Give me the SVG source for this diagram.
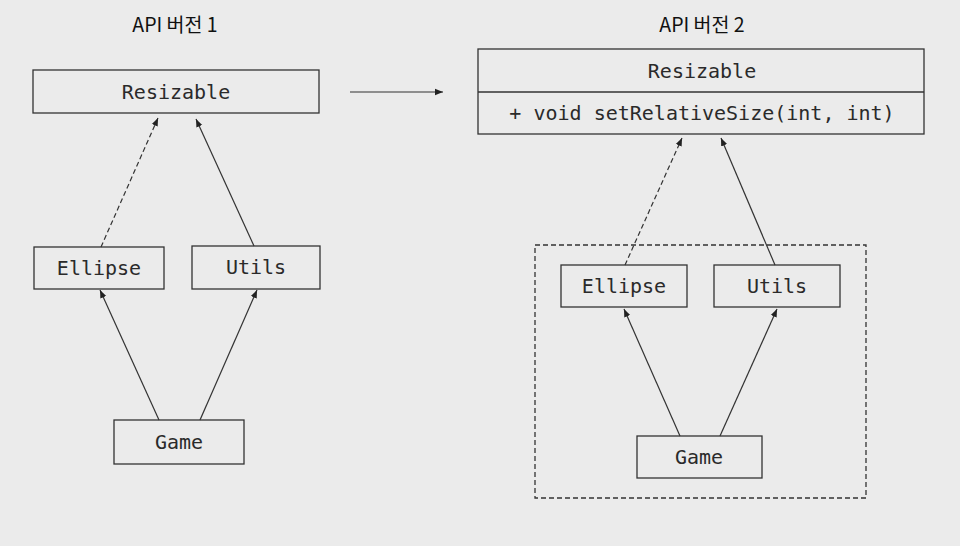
<svg xmlns="http://www.w3.org/2000/svg" width="960" height="546" viewBox="0 0 960 546">
<defs>
<marker id="ah" viewBox="0 0 10 10" refX="10" refY="5" markerWidth="8" markerHeight="8" markerUnits="userSpaceOnUse" orient="auto">
<path d="M0,1 L10,5 L0,9 Z" fill="#222"/>
</marker>
<style>
.box{fill:none;stroke:#333;stroke-width:1.3}
.mono{font-family:"DejaVu Sans Mono","Liberation Mono",monospace;font-size:20px;fill:#2a2a2a;text-anchor:middle}
.title{font-family:"Noto Sans CJK KR","Noto Sans",sans-serif;font-size:19.5px;fill:#111;text-anchor:middle}
.ln{stroke:#333;stroke-width:1.2;fill:none;marker-end:url(#ah)}
.dash{stroke-dasharray:5,3}
</style>
</defs>
<rect width="960" height="546" fill="#ebebeb"/>
<text class="title" x="175" y="32">API 버전 1</text>
<text class="title" x="702" y="32">API 버전 2</text>
<g id="resizable1">
<rect class="box" x="33" y="70" width="286" height="43"/>
<text class="mono" x="176" y="99">Resizable</text>
</g>
<g id="ellipse1">
<rect class="box" x="34" y="247" width="130" height="42"/>
<text class="mono" x="99" y="275">Ellipse</text>
</g>
<g id="utils1">
<rect class="box" x="192" y="246" width="128" height="43"/>
<text class="mono" x="256" y="274">Utils</text>
</g>
<g id="game1">
<rect class="box" x="114" y="420" width="130" height="44"/>
<text class="mono" x="179" y="449">Game</text>
</g>
<g id="resizable2">
<rect class="box" x="478" y="49" width="446" height="85"/>
<line x1="478" y1="92" x2="924" y2="92" stroke="#333" stroke-width="1.3"/>
<text class="mono" x="702" y="78">Resizable</text>
<text class="mono" x="702" y="120">+ void setRelativeSize(int, int)</text>
</g>
<g id="module2">
<rect class="box dash" x="535" y="245" width="331" height="253"/>
</g>
<g id="ellipse2">
<rect class="box" x="561" y="265" width="126" height="42"/>
<text class="mono" x="624" y="293">Ellipse</text>
</g>
<g id="utils2">
<rect class="box" x="714" y="265" width="126" height="42"/>
<text class="mono" x="777" y="293">Utils</text>
</g>
<g id="game2">
<rect class="box" x="637" y="436" width="125" height="42"/>
<text class="mono" x="699" y="464">Game</text>
</g>
<g id="connectors">
<line class="ln" x1="350" y1="92" x2="443" y2="92"/>
<line class="ln dash" x1="101" y1="247" x2="158" y2="118"/>
<line class="ln" x1="254" y1="246" x2="196" y2="119"/>
<line class="ln" x1="159" y1="420" x2="100" y2="290"/>
<line class="ln" x1="200" y1="420" x2="257" y2="290"/>
<line class="ln dash" x1="625" y1="265" x2="682" y2="138"/>
<line class="ln" x1="775" y1="265" x2="721" y2="138"/>
<line class="ln" x1="680" y1="436" x2="624" y2="309"/>
<line class="ln" x1="720" y1="436" x2="777" y2="309"/>
</g>
</svg>
